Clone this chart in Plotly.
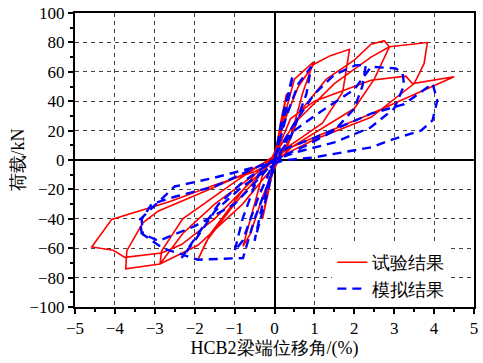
import plotly.graph_objects as go

# 试验结果 (test) hysteresis path
test_x = [0, 0.15, 0.3, 0.1, -0.1, -0.3, -0.1, 0,
          0.2, 0.5, 0.98, 0.7, 0.4, 0.1, -0.3, -0.6, -0.79, -0.6, -0.3, 0,
          0.3, 0.6, 0.98, 1.4, 1.88, 1.71, 1.2, 0.5, 0, -0.5, -1.0, -1.6, -1.92, -1.7, -1.0, -0.2, 0.3,
          0.7, 1.3, 2.0, 2.42, 2.75, 2.88, 2.5, 2.0, 1.0, 0.2, -0.5, -1.5, -2.3, -2.87, -2.83, -2.3, -1.0, 0,
          0.5, 1.5, 2.42, 2.88, 3.83, 3.75, 3.63, 3.5, 2.42, 1.0, 0.2, -0.8, -1.92, -2.87, -3.73, -3.7, -3.3, -2.92, -1.8, -0.8, 0,
          0.4, 1.0, 2.42, 3.29, 3.46, 4.5, 2.42, 1.0, 0.42, 0.17, -0.5, -1.5, -2.6, -4.08, -4.58, -4.04, -3.75, -2.83, -2.33, -1.5, -0.6, 0]
test_y = [0, 25, 45, 10, -15, -40, -10, 0,
          25, 55, 66.8, 45, 15, 0, -25, -50, -58.7, -40, -10, 5,
          30, 50, 65, 71, 75.3, 46.3, 25, 12, 3, -10, -28, -50, -67.8, -55, -30, -5, 8,
          35, 55, 68, 78.8, 81.2, 77, 55, 35, 18, 5, -10, -30, -50, -70.8, -62, -40, -15, 3,
          25, 52, 70, 77, 79.9, 65.7, 58.9, 52, 29, 14, 3, -30, -58, -70.8, -74, -61.7, -42.7, -34.8, -22, -10, 2,
          28, 40, 54.3, 57, 52, 56.6, 31.5, 15.5, 8.6, 1.8, -8, -17, -28, -40.4, -59.2, -61.4, -66.2, -63.3, -57.5, -40, -15, 0]

# 模拟结果 (simulation) hysteresis path
sim_x = [0, 0.2, 0.46, 0.3, 0.05, -0.2, -0.5, -0.3, 0,
         0.3, 0.6, 0.92, 0.8, 0.4, 0, -0.4, -0.8, -1.0, -0.8, -0.4, 0,
         0.5, 1.0, 1.5, 2.04, 2.29, 2.2, 2.0, 1.5, 0.8, 0, -0.8, -1.4, -1.9, -2.33, -2.0, -1.5, -0.8, 0,
         0.4, 1.0, 2.0, 2.42, 3.04, 3.21, 3.25, 3.0, 2.4, 1.5, 0.5, -0.26, -1.5, -2.5, -3.08, -3.33, -3.3, -2.8, -1.92, -0.79, -0.5, 0,
         0.3, 1.0, 2.42, 3.25, 3.96, 4.08, 3.96, 3.67, 3.0, 2.42, 1.0, 0.3, -0.5, -1.5, -2.5, -3.37, -3.33, -2.9, -2.0, -1.0, -0.3, 0]
sim_y = [0, 30, 58, 35, 5, -25, -55, -30, 0,
         30, 52, 63.4, 45, 15, 0, -25, -55, -62, -40, -10, 2,
         25, 45, 58, 64.5, 64.6, 50, 35, 20, 10, 0, -15, -30, -50, -66.7, -55, -35, -18, -3,
         18, 30, 48, 63.4, 62.3, 58.9, 50.9, 35, 22, 12, 5, -2.6, -18, -25, -30, -40.4, -50.5, -60, -67.8, -66.7, -40, -5,
         8, 15, 31.5, 38, 52, 40.6, 26.9, 20, 14.4, 8.6, 1.8, 0, -5, -12, -18, -40.4, -50, -55, -45, -30, -10, 0]

x_ticks = [-5, -4, -3, -2, -1, 0, 1, 2, 3, 4, 5]
x_labels = ["\u22125", "\u22124", "\u22123", "\u22122", "\u22121", "0", "1", "2", "3", "4", "5"]
y_ticks = [-100, -80, -60, -40, -20, 0, 20, 40, 60, 80, 100]
y_labels = ["\u2212100", "\u221280", "\u221260", "\u221240", "\u221220", "0", "20", "40", "60", "80", "100"]

FONT = "Liberation Serif"

fig = go.Figure()
fig.add_trace(go.Scatter(x=test_x, y=test_y, mode="lines", name="试验结果", legendgroup="a",
                         line=dict(color="#ff0000", width=1.6)))
fig.add_trace(go.Scatter(x=sim_x, y=sim_y, mode="lines", name="模拟结果", legendgroup="b",
                         line=dict(color="#0000ff", width=2.4, dash="9px,6px")))

axis_common = dict(showline=True, linecolor="black", linewidth=2, mirror=True,
                   showgrid=True, gridcolor="#444444", griddash="4px,4px", gridwidth=1,
                   zeroline=True, zerolinecolor="black", zerolinewidth=2,
                   ticks="outside", ticklen=5, tickwidth=1.5, tickcolor="black",
                   automargin=False,
                   tickfont=dict(family=FONT, size=17, color="black"))

fig.update_xaxes(range=[-5, 5], tickvals=x_ticks, ticktext=x_labels,
                 minor=dict(ticks="outside", ticklen=3, tickcolor="black", dtick=0.5, showgrid=False),
                 title=dict(text="HCB2梁端位移角/(%)", font=dict(family=FONT, size=18, color="black"), standoff=2),
                 **axis_common)
fig.update_yaxes(range=[-100, 100], tickvals=y_ticks, ticktext=y_labels,
                 minor=dict(ticks="outside", ticklen=3, tickcolor="black", dtick=10, showgrid=False),
                 title=dict(text="荷载/kN", font=dict(family=FONT, size=18, color="black"), standoff=0),
                 **axis_common)

fig.update_layout(
    width=483, height=363,
    margin=dict(l=75, r=9, t=13, b=56),
    paper_bgcolor="white", plot_bgcolor="white",
    showlegend=True,
    legend=dict(x=0.645, y=0.0, xanchor="left", yanchor="bottom",
                bgcolor="white", borderwidth=0,
                font=dict(family=FONT, size=18, color="black"),
                itemwidth=30, tracegroupgap=0),
)

fig.write_html("out.html", config={"displayModeBar": False},
               post_script="document.body.style.margin='0';document.body.style.padding='0';")
